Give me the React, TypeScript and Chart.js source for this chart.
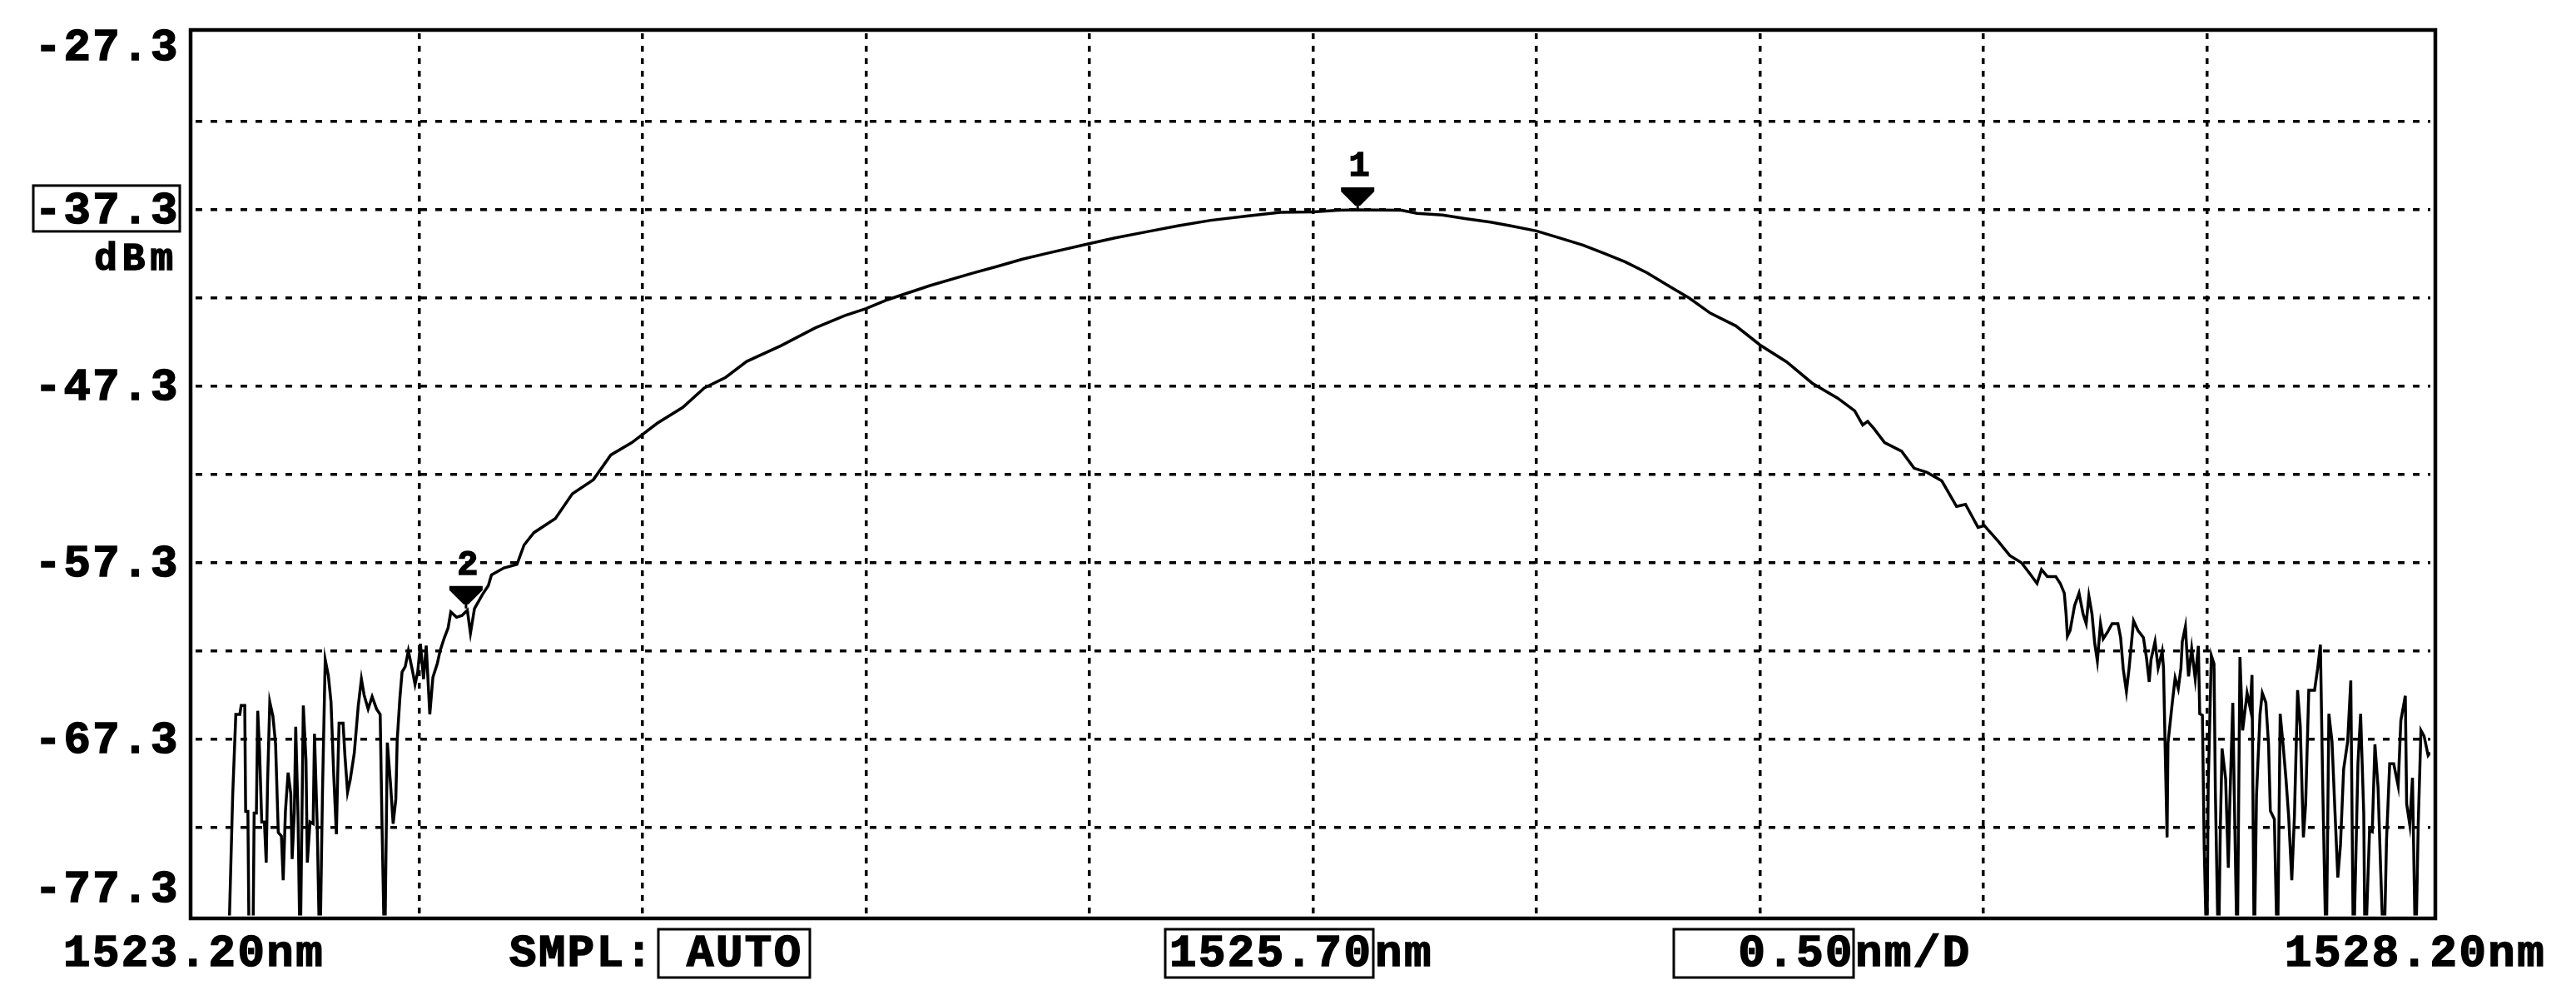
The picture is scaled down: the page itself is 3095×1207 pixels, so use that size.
import React, { useEffect, useRef } from "react";
import { Chart, registerables } from "chart.js";

Chart.register(...registerables);

// ---- axis settings (optical spectrum analyser screen) ----
const X_MIN = 1523.2;
const X_MAX = 1528.2;
const Y_MIN = -77.3;
const Y_MAX = -27.3;
const xTicks = [1523.2, 1523.7, 1524.2, 1524.7, 1525.2, 1525.7, 1526.2, 1526.7, 1527.2, 1527.7, 1528.2];
const yTicks = [-77.3, -72.3, -67.3, -62.3, -57.3, -52.3, -47.3, -42.3, -37.3, -32.3, -27.3];
const yLabelTicks = [-27.3, -37.3, -47.3, -57.3, -67.3, -77.3];
const refLevel = -37.3;
const unitLabel = "dBm";
const centerNm = 1525.7;
const spanPerDiv = 0.5;
const samplingLabel = "AUTO";
const FLOOR = -80; // below the display range (trace sits on the bottom edge)

const markers = [
  { id: "1", nm: 1525.8, dbm: -37.3 },
  { id: "2", nm: 1523.805, dbm: -59.9 },
];

// ---- trace values [wavelength nm, power dBm] ----
const leftNoise: [number, number][] = [
  [1523.2, FLOOR], [1523.273, FLOOR], [1523.277, -76.2], [1523.283, -70.5], [1523.29, -65.9],
  [1523.299, -65.9], [1523.302, -65.4], [1523.31, -65.4], [1523.312, -71.4], [1523.317, -71.4],
  [1523.32, FLOOR], [1523.328, FLOOR], [1523.331, -71.5], [1523.336, -71.5], [1523.339, -65.7],
  [1523.343, -67.9], [1523.348, -72.0], [1523.354, -72.0], [1523.358, -74.3], [1523.361, -69.8],
  [1523.366, -65.2], [1523.373, -66.0], [1523.379, -67.6], [1523.385, -72.6], [1523.392, -72.8],
  [1523.396, -75.3], [1523.401, -71.4], [1523.407, -69.2], [1523.413, -70.4], [1523.416, -74.1],
  [1523.421, -71.4], [1523.424, -66.6], [1523.429, -71.4], [1523.434, FLOOR], [1523.441, -65.4],
  [1523.447, -68.5], [1523.45, -74.3], [1523.456, -72.0], [1523.463, -72.1], [1523.466, -67.0],
  [1523.472, -72.1], [1523.478, FLOOR], [1523.484, -70.2], [1523.49, -62.8], [1523.497, -63.7],
  [1523.503, -65.2], [1523.509, -69.3], [1523.515, -72.7], [1523.518, -69.3], [1523.521, -66.4],
  [1523.53, -66.4], [1523.534, -68.2], [1523.54, -70.3], [1523.546, -69.6], [1523.555, -68.1],
  [1523.564, -65.4], [1523.571, -63.9], [1523.577, -64.8], [1523.586, -65.6], [1523.595, -64.9],
  [1523.605, -65.6], [1523.613, -65.9], [1523.617, -72.0], [1523.623, FLOOR], [1523.629, -67.5],
  [1523.636, -69.8], [1523.642, -72.1], [1523.648, -70.7], [1523.651, -67.4], [1523.657, -65.0],
  [1523.662, -63.5], [1523.669, -63.2], [1523.676, -62.3], [1523.685, -63.4], [1523.691, -64.2],
  [1523.697, -63.5], [1523.703, -61.9], [1523.71, -63.9], [1523.716, -62.0], [1523.724, -65.9],
  [1523.731, -63.8], [1523.741, -63.0], [1523.747, -62.3], [1523.756, -61.6], [1523.765, -61.0],
  [1523.771, -60.1], [1523.784, -60.4], [1523.796, -60.3], [1523.808, -60.0], [1523.815, -61.3],
  [1523.824, -59.9], [1523.842, -59.1], [1523.855, -58.6],
];

const mainLobe: [number, number][] = [
  [1523.862, -58.0], [1523.89, -57.6], [1523.919, -57.4], [1523.935, -56.3], [1523.957, -55.6],
  [1524.005, -54.8], [1524.043, -53.4], [1524.09, -52.6], [1524.129, -51.2], [1524.176, -50.5],
  [1524.233, -49.4], [1524.29, -48.5], [1524.338, -47.4], [1524.386, -46.8], [1524.433, -45.9],
  [1524.51, -45.0], [1524.586, -44.0], [1524.652, -43.3], [1524.7, -42.9], [1524.748, -42.4],
  [1524.843, -41.6], [1524.938, -40.9], [1524.995, -40.5], [1525.05, -40.1], [1525.1, -39.8],
  [1525.186, -39.3], [1525.257, -38.9], [1525.328, -38.55], [1525.4, -38.2], [1525.471, -37.9],
  [1525.556, -37.65], [1525.627, -37.45], [1525.7, -37.42], [1525.756, -37.33], [1525.8, -37.3],
  [1525.898, -37.33], [1525.933, -37.5], [1525.99, -37.6], [1526.04, -37.8], [1526.097, -38.0],
  [1526.14, -38.2], [1526.2, -38.5], [1526.257, -38.94], [1526.304, -39.3], [1526.352, -39.78],
  [1526.399, -40.26], [1526.447, -40.87], [1526.494, -41.59], [1526.542, -42.31], [1526.589, -43.16],
  [1526.646, -43.88], [1526.7, -44.96], [1526.76, -45.93], [1526.817, -47.13], [1526.874, -47.98],
  [1526.912, -48.7], [1526.93, -49.5], [1526.941, -49.3], [1526.955, -49.7], [1526.979, -50.5],
  [1527.017, -50.99], [1527.045, -51.95], [1527.074, -52.19], [1527.107, -52.67], [1527.14, -54.12],
  [1527.16, -54.0], [1527.173, -54.6], [1527.188, -55.3], [1527.202, -55.2],
];

const rightNoise: [number, number][] = [
  [1527.234, -56.12], [1527.259, -56.9], [1527.285, -57.3], [1527.304, -57.93], [1527.32, -58.48],
  [1527.33, -57.69], [1527.343, -58.09], [1527.362, -58.09], [1527.372, -58.48], [1527.381, -59.03],
  [1527.385, -60.21], [1527.388, -61.47], [1527.394, -61.15], [1527.404, -59.74], [1527.414, -59.03],
  [1527.423, -60.21], [1527.43, -60.76], [1527.436, -59.19], [1527.443, -60.21], [1527.449, -61.86],
  [1527.455, -62.88], [1527.462, -60.76], [1527.468, -61.62], [1527.478, -61.23], [1527.488, -60.76],
  [1527.501, -60.76], [1527.507, -61.55], [1527.513, -63.35], [1527.52, -64.61], [1527.526, -63.27],
  [1527.536, -60.6], [1527.546, -61.15], [1527.558, -61.55], [1527.565, -62.72], [1527.571, -64.06],
  [1527.575, -62.8], [1527.584, -61.78], [1527.591, -63.27], [1527.6, -62.33], [1527.603, -63.27],
  [1527.607, -68.23], [1527.611, -72.87], [1527.613, -67.52], [1527.623, -65.16], [1527.629, -63.83],
  [1527.636, -64.45], [1527.642, -63.27], [1527.645, -61.78], [1527.652, -60.92], [1527.655, -62.25],
  [1527.659, -63.75], [1527.666, -62.17], [1527.674, -63.9], [1527.681, -62.02], [1527.684, -65.87],
  [1527.69, -65.95], [1527.694, -73.42], [1527.7, FLOOR], [1527.703, -69.96], [1527.71, -62.57],
  [1527.716, -63.04], [1527.719, -70.27], [1527.726, FLOOR], [1527.73, -72.55], [1527.734, -67.83],
  [1527.742, -69.56], [1527.748, -74.6], [1527.751, -71.22], [1527.758, -65.24], [1527.761, -69.96],
  [1527.768, FLOOR], [1527.774, -62.65], [1527.78, -66.81], [1527.79, -64.69], [1527.797, -65.55],
  [1527.801, -63.67], [1527.806, FLOOR], [1527.811, -70.51], [1527.819, -65.87], [1527.824, -64.69],
  [1527.832, -65.24], [1527.838, -67.6], [1527.842, -71.37], [1527.851, -71.84], [1527.858, FLOOR],
  [1527.864, -65.87], [1527.871, -67.76], [1527.877, -69.56], [1527.883, -71.69], [1527.89, -75.3],
  [1527.896, -71.61], [1527.903, -64.53], [1527.909, -66.58], [1527.916, -72.87], [1527.921, -70.98],
  [1527.928, -64.53], [1527.941, -64.53], [1527.948, -63.27], [1527.954, -61.95], [1527.959, -69.64],
  [1527.967, FLOOR], [1527.973, -65.87], [1527.98, -67.44], [1527.986, -71.06], [1527.993, -75.15],
  [1527.999, -73.26], [1528.006, -69.01], [1528.015, -67.44], [1528.022, -63.98], [1528.028, FLOOR],
  [1528.038, -68.7], [1528.044, -65.87], [1528.051, -71.53], [1528.054, FLOOR], [1528.064, -72.47],
  [1528.07, -72.55], [1528.076, -67.6], [1528.083, -70.04], [1528.089, -74.83], [1528.096, FLOOR],
  [1528.102, -73.02], [1528.109, -68.7], [1528.118, -68.7], [1528.128, -69.96], [1528.134, -66.26],
  [1528.144, -64.85], [1528.147, -70.98], [1528.154, -72.16], [1528.16, -69.49], [1528.167, FLOOR],
  [1528.173, -72.0], [1528.179, -66.81], [1528.186, -67.13], [1528.195, -68.23], [1528.2, -68.07],
];

const FONT = '"Liberation Mono", "DejaVu Sans Mono", monospace';

function boldText(ctx: CanvasRenderingContext2D, s: string, x: number, y: number) {
  ctx.fillText(s, x, y);
  ctx.strokeText(s, x, y);
}

const overlayPlugin = {
  id: "osaOverlay",
  afterDraw(chart: any) {
    const { ctx, chartArea: a, scales } = chart;
    const xs = scales.x;
    const ys = scales.y;
    ctx.save();
    ctx.fillStyle = "#000";
    ctx.strokeStyle = "#000";
    ctx.lineJoin = "miter";

    // frame
    ctx.lineWidth = 4.5;
    ctx.strokeRect(a.left - 6, a.top - 4, a.width + 12, a.height + 7.5);

    // markers
    for (const m of markers) {
      const px = xs.getPixelForValue(m.nm);
      const py = ys.getPixelForValue(m.dbm);
      ctx.beginPath();
      ctx.moveTo(px - 20, py - 27);
      ctx.lineTo(px + 20, py - 27);
      ctx.lineTo(px + 20, py - 22);
      ctx.lineTo(px + 3, py - 5);
      ctx.lineTo(px - 3, py - 5);
      ctx.lineTo(px - 20, py - 22);
      ctx.closePath();
      ctx.fill();
      ctx.fillRect(px - 1.5, py - 8, 3, 8);
      ctx.font = `bold 42px ${FONT}`;
      (ctx as any).letterSpacing = "0px";
      ctx.textAlign = "center";
      ctx.textBaseline = "alphabetic";
      ctx.lineWidth = 1.5;
      boldText(ctx, m.id, px + 2, py - 41);
    }

    // y labels
    ctx.font = `bold 54px ${FONT}`;
    (ctx as any).letterSpacing = "2.5px";
    ctx.textAlign = "left";
    ctx.textBaseline = "alphabetic";
    ctx.lineWidth = 1.6;
    for (const v of yLabelTicks) {
      let cy = ys.getPixelForValue(v) - 2;
      if (v === Y_MAX) cy = a.top + 14;
      if (v === Y_MIN) cy = a.bottom - 35;
      const s = v.toFixed(1);
      const w = ctx.measureText(s).width;
      boldText(ctx, s, 216 - w, cy + 18);
    }
    // reference level box
    const ry = ys.getPixelForValue(refLevel);
    ctx.lineWidth = 3;
    ctx.strokeRect(40, ry - 29, 176, 55);
    // unit
    ctx.font = `bold 46px ${FONT}`;
    (ctx as any).letterSpacing = "6px";
    ctx.lineWidth = 1.6;
    const uw = ctx.measureText(unitLabel).width;
    boldText(ctx, unitLabel, 214 - uw, ry + 72);

    // bottom labels
    ctx.font = `bold 54px ${FONT}`;
    (ctx as any).letterSpacing = "2.5px";
    const by = 1160;
    ctx.lineWidth = 1.6;
    boldText(ctx, `${X_MIN.toFixed(2)}nm`, 76, by);
    boldText(ctx, "SMPL:", 612, by);
    boldText(ctx, samplingLabel, 825, by);
    boldText(ctx, centerNm.toFixed(2), 1405, by);
    boldText(ctx, "nm", 1652, by);
    const sp = spanPerDiv.toFixed(2);
    const spw = ctx.measureText(sp).width;
    boldText(ctx, sp, 2228 - spw, by);
    boldText(ctx, "nm/D", 2229, by);
    boldText(ctx, `${X_MAX.toFixed(2)}nm`, 2745, by);
    ctx.lineWidth = 3;
    ctx.strokeRect(791, 1116, 182, 58);
    ctx.strokeRect(1400, 1116, 250, 58);
    ctx.strokeRect(2011, 1116, 216, 58);

    ctx.restore();
  },
};

const innerGridColor = (n: number) => (c: any) =>
  c.index === 0 || c.index === n - 1 ? "rgba(0,0,0,0)" : "#000";

export default function App() {
  const ref = useRef<HTMLCanvasElement | null>(null);

  useEffect(() => {
    if (!ref.current) return;
    const points = [...leftNoise, ...mainLobe, ...rightNoise].map(([x, y]) => ({ x, y }));
    const chart = new Chart(ref.current, {
      type: "line",
      data: {
        datasets: [
          {
            data: points,
            borderColor: "#000",
            borderWidth: 3.5,
            pointRadius: 0,
            fill: false,
            tension: 0,
          },
        ],
      },
      options: {
        animation: false,
        responsive: false,
        devicePixelRatio: 1,
        events: [],
        layout: { padding: { left: 235, right: 175, top: 40, bottom: 107.5 } },
        plugins: { legend: { display: false }, tooltip: { enabled: false } },
        scales: {
          x: {
            type: "linear",
            min: X_MIN,
            max: X_MAX,
            afterBuildTicks: (s: any) => {
              s.ticks = xTicks.map((value) => ({ value }));
            },
            ticks: { display: false },
            grid: { color: innerGridColor(xTicks.length), lineWidth: 3.5, drawTicks: false },
            border: { display: false, dash: [7, 8] },
          },
          y: {
            type: "linear",
            min: Y_MIN,
            max: Y_MAX,
            afterBuildTicks: (s: any) => {
              s.ticks = yTicks.map((value) => ({ value }));
            },
            ticks: { display: false },
            grid: { color: innerGridColor(yTicks.length), lineWidth: 3.5, drawTicks: false },
            border: { display: false, dash: [8, 10] },
          },
        },
      },
      plugins: [overlayPlugin],
    } as any);
    return () => chart.destroy();
  }, []);

  return (
    <div style={{ position: "fixed", left: 0, top: 0, width: 3095, height: 1207, background: "#fff" }}>
      <canvas ref={ref} width={3095} height={1207} style={{ display: "block" }} />
    </div>
  );
}
